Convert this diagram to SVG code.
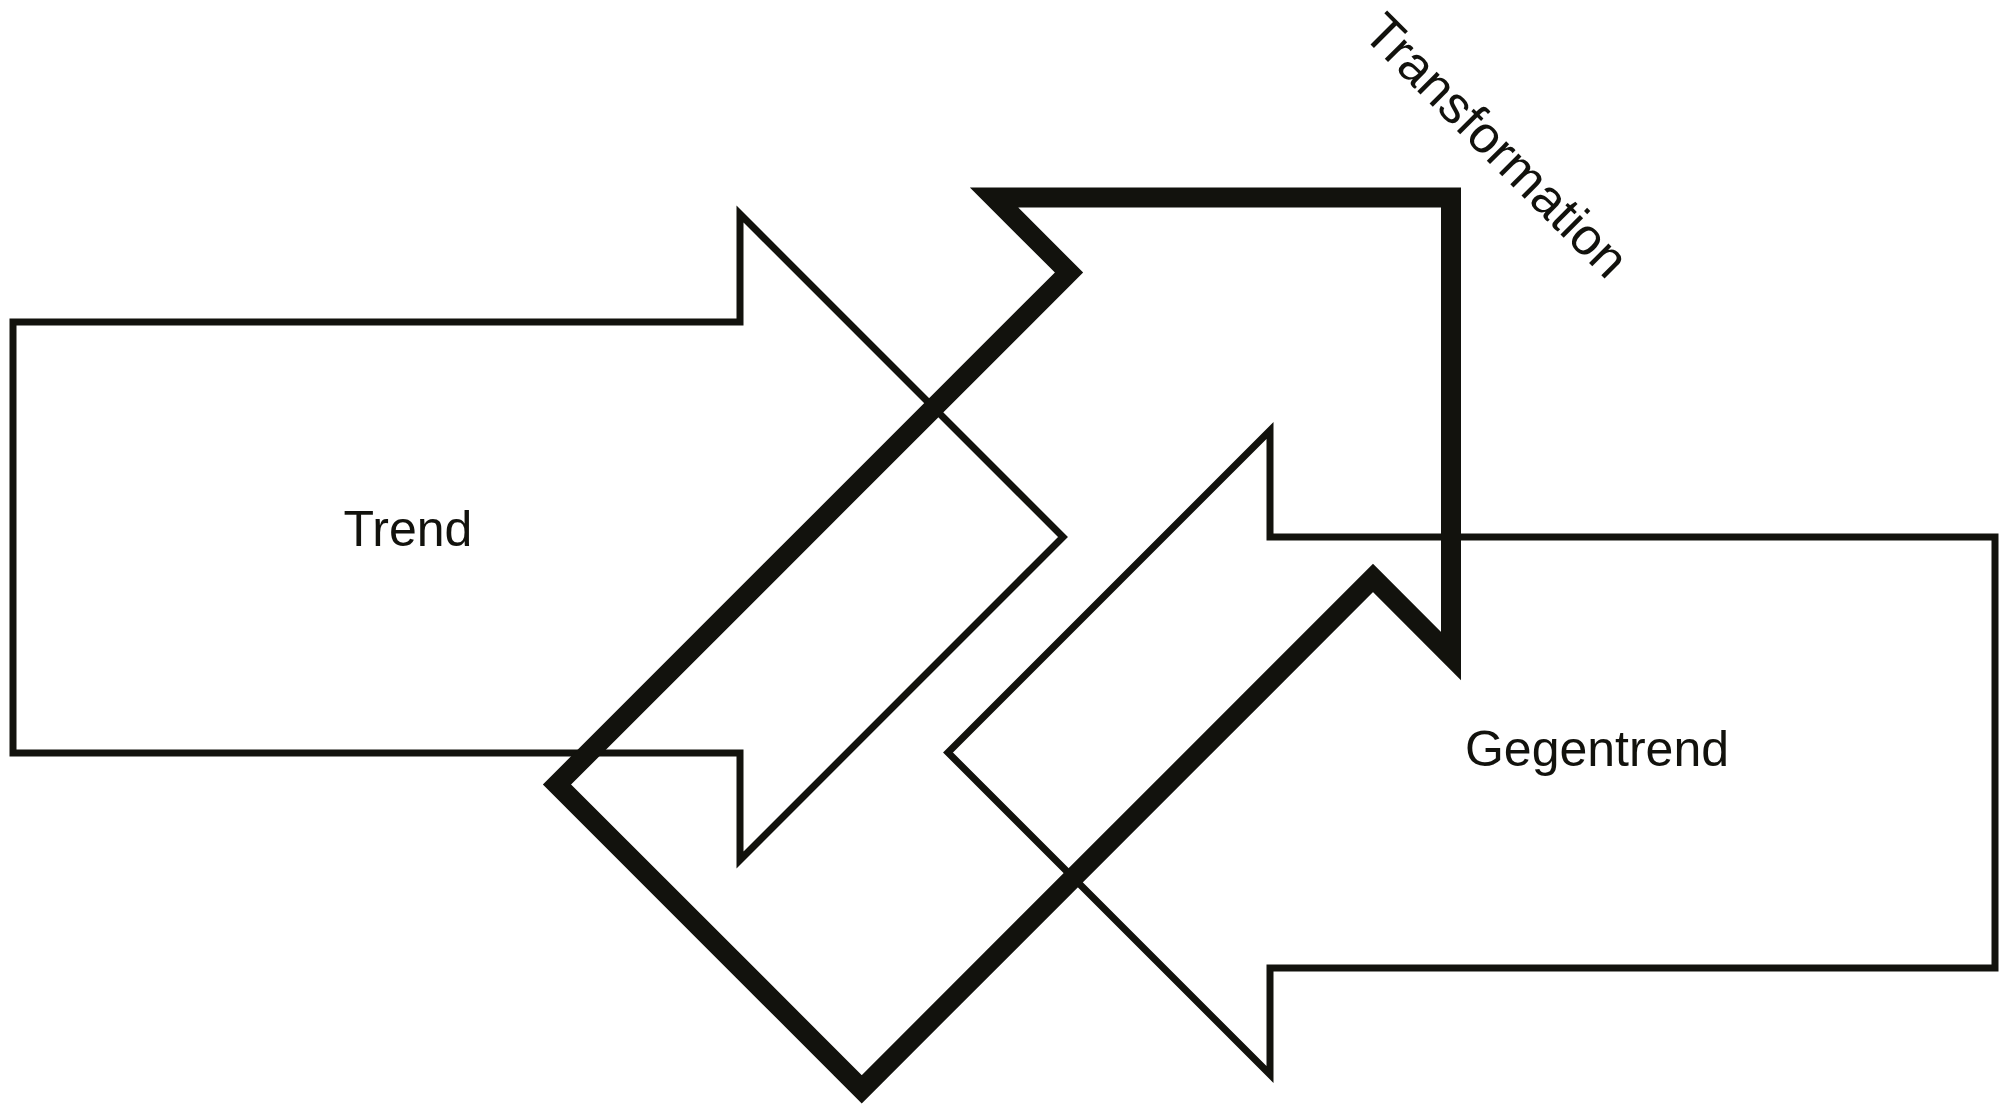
<svg xmlns="http://www.w3.org/2000/svg" width="2007" height="1106" viewBox="0 0 2007 1106">
<style>
.bg{fill:#ffffff}
.thin{fill:none;stroke:#12120d;stroke-width:7;stroke-linejoin:miter;stroke-miterlimit:10}
.thick{fill:none;stroke:#12120d;stroke-width:20;stroke-linejoin:miter;stroke-miterlimit:10}
.lbl{font-family:"Liberation Sans",Arial,sans-serif;font-size:50px;fill:#12120d;text-anchor:middle}
</style>
<rect class="bg" x="0" y="0" width="2007" height="1106"/>
<g id="trend">
<path class="thin" d="M13,322 H740 V214 L1063,537 L740,860 V753 H13 Z"/>
<text class="lbl" x="408" y="546">Trend</text>
</g>
<g id="gegentrend">
<path class="thin" d="M1995,537 H1270 V430.5 L948,752.5 L1270,1074.5 V968 H1995 Z"/>
<text class="lbl" x="1597" y="766">Gegentrend</text>
</g>
<g id="transformation">
<path class="thick" d="M994,197.5 H1451 V656 L1373,578 L861.75,1089.25 L557,784.5 L1069,272.5 Z"/>
<text class="lbl" style="font-size:52px" transform="translate(1484,158) rotate(45)" x="0" y="0">Transformation</text>
</g>
<g id="connectors"></g>
</svg>
